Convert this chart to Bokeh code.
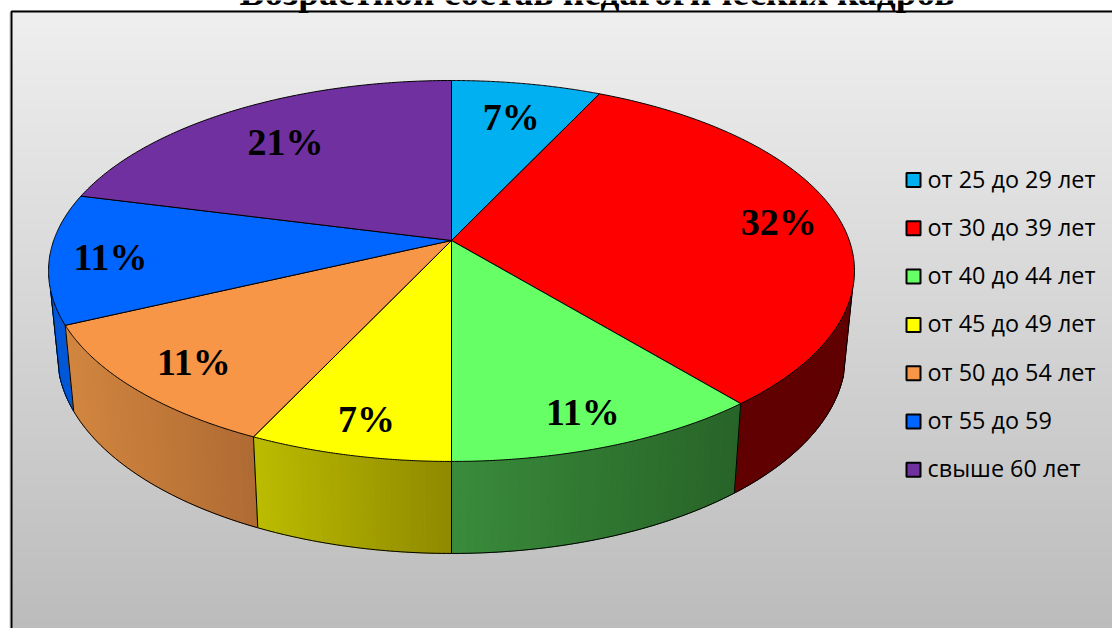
import numpy as np
from bokeh.plotting import figure
from bokeh.core.properties import value
from bokeh.embed import file_html
from bokeh.resources import INLINE

title = "Возрастной состав педагогических кадров"
categories = ["от 25 до 29 лет", "от 30 до 39 лет", "от 40 до 44 лет", "от 45 до 49 лет",
              "от 50 до 54 лет", "от 55 до 59", "свыше 60 лет"]
percent = [7, 32, 11, 7, 11, 11, 21]
top_colors = ["#00b0f0", "#ff0000", "#66ff66", "#ffff00", "#f79646", "#0066ff", "#7030a0"]
wall_left = [None, "#600000", "#3a8c3c", "#bcbc00", "#d2863f", "#0058d8", None]
wall_right = [None, "#600000", "#286428", "#8f8a00", "#b06b34", "#0058d8", None]
label_radius = [0.77, 0.843, 0.85, 0.85, 0.83, 0.85, 0.745]

W, H = 1112, 628
CX, CY, KP, B, A = 451.0, 240.0, 0.160, 185.6, 397.8


def top_xy(theta, rho=1.0):
    u, v = np.sin(theta) * rho, np.cos(theta) * rho
    d = 1 + KP * v
    return CX + A * u / d, CY - B * v / d


def low_xy(x, y):
    return CX + 0.978 * (x - CX), y + 86 + 0.0438 * (y - 324)


def hex2rgb(h):
    return np.array([int(h[i:i + 2], 16) for i in (1, 3, 5)], float)


def grey(level):
    g = int(level)
    return "#%02x%02x%02x" % (g, g, g)


p = figure(width=W, height=H, x_range=(0, W), y_range=(H, 0), output_backend="svg",
           toolbar_location=None, min_border=0, outline_line_color=None,
           background_fill_color="white", border_fill_color="white")
p.axis.visible = False
p.grid.visible = False
p.styles = {"position": "absolute", "left": "0px", "top": "0px"}

# background gradient
edges = np.arange(10, H + 4, 4)
fr = (edges[:-1] - 10) / (H - 10)
bg = [grey(239 - 51 * f) for f in fr]
p.quad(left=11, right=W + 2, top=edges[:-1], bottom=edges[1:], fill_color=bg, line_color=bg, line_width=1)
p.line([9, 9], [12, H], line_color="#e2e2e2", line_width=1)
p.line([11, 11, W], [H, 11, 11], line_color="black", line_width=2)

fractions = np.array(percent) / sum(percent)
ends = np.cumsum(fractions) * 2 * np.pi
starts = ends - fractions * 2 * np.pi

# walls
order = [1, 5, 2, 4, 3]
wall_limits = {1: (np.radians(105), ends[1]), 5: (starts[5], np.radians(255))}
for i in order:
    a0, a1 = wall_limits.get(i, (starts[i], ends[i]))
    th = np.linspace(a0, a1, 41)
    xt, yt = top_xy(th)
    xl, yl = low_xy(xt, yt)
    c0, c1 = hex2rgb(wall_left[i]), hex2rgb(wall_right[i])
    xs, ys, cs = [], [], []
    for j in range(40):
        f = (0.5 * (xt[j] + xt[j + 1]) - min(xt)) / (max(xt) - min(xt))
        c = c0 + (c1 - c0) * f
        xs.append([xt[j], xt[j + 1], xl[j + 1], xl[j]])
        ys.append([yt[j], yt[j + 1], yl[j + 1], yl[j]])
        cs.append("#%02x%02x%02x" % tuple(int(v) for v in c))
    p.patches(xs, ys, fill_color=cs, line_color=cs, line_width=1)
    p.line(xl, yl, line_color="black", line_width=1)
    for t in (a0, a1):
        x0, y0 = top_xy(t)
        x1, y1 = low_xy(x0, y0)
        p.line([x0, x1], [y0, y1], line_color="black", line_width=1)

# tops
for i in range(len(percent)):
    th = np.linspace(starts[i], ends[i], 121)
    xt, yt = top_xy(th)
    p.patch(np.r_[CX, xt], np.r_[CY, yt], fill_color=top_colors[i], line_color="black", line_width=1)

# percentage labels
mid = (starts + ends) / 2
lx, ly = top_xy(mid, np.array(label_radius))
p.text(lx, ly, text=[f"{v}%" for v in percent], text_font=value("Liberation Serif"),
       text_font_style="bold", text_font_size="38px", text_color="black",
       text_align="center", text_baseline="middle", y_offset=1)

# title
p.text([596.5], [7], text=[title], text_font=value("Liberation Serif"), text_font_style="bold",
       text_font_size="37.4px", text_color="black", text_align="center", text_baseline="alphabetic",
       y_offset=-15)

# legend
idx = np.arange(len(categories))
ly0 = 179.5 + 48.3 * idx
p.quad(left=906, right=920, top=ly0 - 7, bottom=ly0 + 7, fill_color=top_colors, line_color="black", line_width=2)
p.text(np.full(len(categories), 927), ly0, text=categories, text_font=value("Open Sans"),
       text_font_size="23.4px", text_color="black", text_align="left", text_baseline="middle",
       y_offset=-1.5)

open("out.html", "w").write(file_html(p, INLINE))
